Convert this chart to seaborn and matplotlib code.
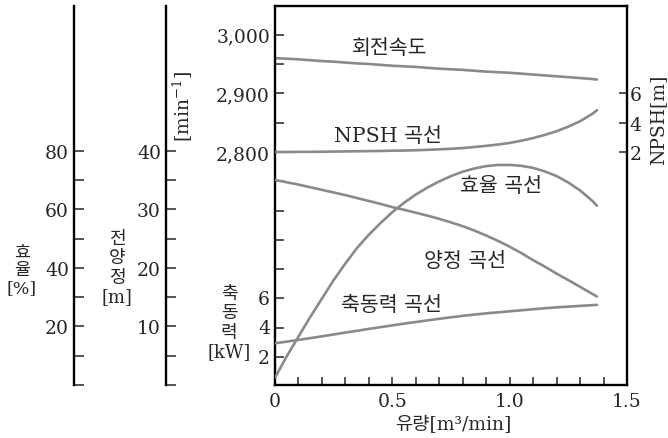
import numpy as np
import matplotlib
matplotlib.use("Agg")
import matplotlib.pyplot as plt
import seaborn as sns

# ---- data (flow in m3/min) ----
flow = [0.0, 0.05, 0.1, 0.15, 0.2, 0.25, 0.3, 0.35, 0.4, 0.45, 0.5, 0.55, 0.6, 0.65,
        0.7, 0.75, 0.8, 0.85, 0.9, 0.95, 1.0, 1.05, 1.1, 1.15, 1.2, 1.25, 1.3, 1.35, 1.372]
speed_rpm = [2960, 2959, 2958, 2956.5, 2955, 2954, 2952.5, 2951, 2950, 2948.5, 2947, 2946,
             2945, 2943.5, 2942, 2941, 2940, 2938.5, 2937, 2936, 2935, 2933.5, 2932, 2930.5,
             2929, 2927.5, 2926, 2924.5, 2923.5]
npsh_m = [2.0, 2.0, 2.01, 2.01, 2.02, 2.03, 2.04, 2.05, 2.06, 2.07, 2.09, 2.1, 2.12, 2.15,
          2.18, 2.22, 2.27, 2.34, 2.42, 2.51, 2.62, 2.77, 2.95, 3.17, 3.42, 3.73, 4.1, 4.58, 4.85]
efficiency_pct = [2.5, 9.8, 16.5, 23.2, 29.5, 35.8, 41.5, 46.8, 51.3, 55.3, 59, 62.2, 65, 67.4,
                  69.5, 71.3, 72.8, 73.9, 74.7, 75.1, 75.1, 74.8, 74.1, 72.9, 71.3, 69.1, 66.4,
                  63.0, 61.2]
head_m = [35, 34.6, 34.2, 33.75, 33.3, 32.85, 32.4, 31.9, 31.4, 30.9, 30.35, 29.9, 29.4, 28.9,
          28.35, 27.75, 27.1, 26.35, 25.5, 24.6, 23.6, 22.5, 21.3, 20.2, 19.0, 17.9, 16.75,
          15.6, 15.1]
power_kw = [2.85, 2.96, 3.08, 3.2, 3.32, 3.45, 3.58, 3.7, 3.83, 3.95, 4.07, 4.19, 4.3, 4.41,
            4.52, 4.62, 4.72, 4.81, 4.89, 4.96, 5.03, 5.1, 5.17, 5.24, 5.3, 5.35, 5.4, 5.45, 5.47]

x_major = [0, 0.5, 1.0, 1.5]
x_major_labels = ["0", "0.5", "1.0", "1.5"]
rpm_labels = [2800, 2900, 3000]
kw_labels = [2, 4, 6]
eff_labels = [20, 40, 60, 80]
head_labels = [10, 20, 30, 40]
npsh_labels = [2, 4, 6]

sns.set_style("white")
plt.rcParams["font.family"] = ["DejaVu Serif", "Noto Sans CJK KR"]
plt.rcParams["mathtext.fontset"] = "dejavuserif"

W, H = 668, 439
fig = plt.figure(figsize=(W / 100, H / 100), dpi=100)
L, R, T, B = 275, 627, 7, 386
ax = fig.add_axes([L / W, (H - B) / H, (R - L) / W, (B - T) / H])

CURVE = "#8a8a8a"
LW = 1.9
FS = 13.5
FS_LBL = 14.8
TW = 1.1

ax_kw = ax.twinx()
ax_eff = ax.twinx()
ax_head = ax.twinx()
ax_npsh = ax.twinx()

sns.lineplot(x=flow, y=speed_rpm, ax=ax, color=CURVE, linewidth=LW)
sns.lineplot(x=flow, y=power_kw, ax=ax_kw, color=CURVE, linewidth=LW)
sns.lineplot(x=flow, y=efficiency_pct, ax=ax_eff, color=CURVE, linewidth=LW)
sns.lineplot(x=flow, y=head_m, ax=ax_head, color=CURVE, linewidth=LW)
sns.lineplot(x=flow, y=npsh_m, ax=ax_npsh, color=CURVE, linewidth=LW)

for a in (ax, ax_kw, ax_eff, ax_head, ax_npsh):
    a.set_xlabel("")
    a.set_ylabel("")
    a.grid(False)

# main axes: x and rpm
ax.set_xlim(0, 1.5)
ax.set_xticks(x_major)
ax.set_xticklabels(x_major_labels)
ax.set_xticks(np.arange(0.1, 1.45, 0.1), minor=True)
ax.tick_params(axis="x", which="both", direction="in", length=6, width=TW,
               top=False, bottom=True, labelsize=FS, pad=5)
px_per_50 = 29.3
rpm_per_px = 50 / px_per_50
ax.set_ylim(2800 - (B - 152.9) * rpm_per_px, 3000 + (35.7 - T) * rpm_per_px)
rpm_ticks = np.arange(2450, 3001, 50)
ax.set_yticks(rpm_ticks)
ax.set_yticklabels([f"{v:,}" if v in rpm_labels else "" for v in rpm_ticks])
ax.tick_params(axis="y", direction="in", length=6.5, width=TW, left=True,
               right=False, labelsize=FS, pad=3.6)
for s in ax.spines.values():
    s.set_linewidth(1.7)
    s.set_color("black")

# kW (labels only, left)
ax_kw.set_ylim(0, (B - T) / px_per_50 * 2)
ax_kw.yaxis.set_ticks_position("left")
ax_kw.set_yticks(kw_labels)
ax_kw.tick_params(axis="y", length=0, labelsize=FS, pad=3.6,
                  left=True, right=False, labelleft=True, labelright=False)
for s in ax_kw.spines.values():
    s.set_visible(False)


def outer_axis(a, xpix, top_val, step, labels, maxtick):
    a.set_ylim(0, top_val)
    for k, s in a.spines.items():
        s.set_visible(k == "left")
    a.spines["left"].set_position(("axes", (xpix - L) / (R - L)))
    a.spines["left"].set_linewidth(1.7)
    a.spines["left"].set_color("black")
    a.yaxis.set_ticks_position("left")
    ticks = np.arange(0, maxtick + step / 2, step)
    a.set_yticks(ticks)
    a.set_yticklabels([f"{int(v)}" if v in labels else "" for v in ticks])
    a.tick_params(axis="y", direction="in", length=7, width=TW, labelsize=FS,
                  pad=3.6, left=True, right=False, labelleft=True, labelright=False)


outer_axis(ax_eff, 74, (B - T) / px_per_50 * 10, 10, eff_labels, 80)
outer_axis(ax_head, 166, (B - T) / px_per_50 * 5, 5, head_labels, 40)

# NPSH right axis
zero_px = 153 + px_per_50
ax_npsh.set_ylim(-(B - zero_px) / px_per_50 * 2, (zero_px - T) / px_per_50 * 2)
ax_npsh.set_yticks(npsh_labels)
ax_npsh.tick_params(axis="y", direction="in", length=6, width=TW, labelsize=FS,
                    pad=2, left=False, right=True, labelleft=False, labelright=True)
for s in ax_npsh.spines.values():
    s.set_visible(False)


def ftext(px, py, s, **kw):
    fig.text(px / W, 1 - py / H, s, ha="center", va="center", **kw)


ftext(390, 49, "회전속도", fontsize=FS_LBL)
ftext(388, 136, "NPSH 곡선", fontsize=FS_LBL)
ftext(501, 187, "효율 곡선", fontsize=FS_LBL)
ftext(465, 262, "양정 곡선", fontsize=FS_LBL)
ftext(391, 305, "축동력 곡선", fontsize=FS_LBL)

ftext(22, 271, "효\n율\n[%]", fontsize=12.5, linespacing=1.05)
ftext(117, 268, "전\n양\n정\n[m]", fontsize=13, linespacing=1.1)
ftext(229, 323, "축\n동\n력\n[kW]", fontsize=13, linespacing=1.1)
ftext(183, 107, r"[min$^{-1}$]", fontsize=FS, rotation=90)
ftext(658, 120, "NPSH[m]", fontsize=FS, rotation=90)
ftext(453, 425, "유량[m³/min]", fontsize=FS)

fig.savefig("out.png", dpi=100)
